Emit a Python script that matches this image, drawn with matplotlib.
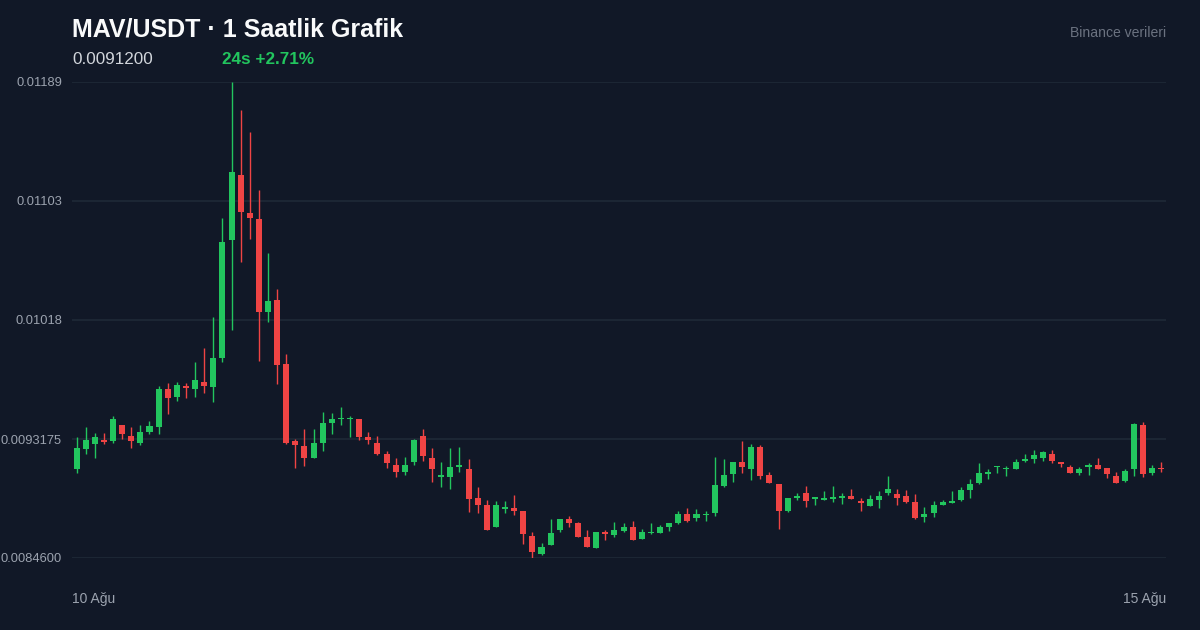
import matplotlib
matplotlib.use("Agg")
import matplotlib.pyplot as plt
import numpy as np

# ---- data (hourly candles, MAV/USDT) ----
opens = [0.0091013, 0.0092432, 0.0092836, 0.0093124, 0.0093009, 0.0094205, 0.0093391, 0.0092908, 0.0093701, 0.0094018,
         0.0096778, 0.0096201, 0.0096994, 0.0096799, 0.0097282, 0.0096943, 0.0099033, 0.0107536, 0.0112198, 0.0109482,
         0.0109006, 0.0102326, 0.0103191, 0.0098579, 0.0092995, 0.0092692, 0.0091827, 0.0092908, 0.0094306, 0.0094594,
         0.0094594, 0.0094616, 0.0093319, 0.0092908, 0.0092115, 0.0091301, 0.0090797, 0.0091517, 0.0093391, 0.0091784,
         0.0090458, 0.0090415, 0.0091179, 0.0090991, 0.0088902, 0.0088397, 0.0086812, 0.0088152, 0.0088203, 0.0087986,
         0.0086185, 0.0084888, 0.0085515, 0.0086596, 0.0087388, 0.0087100, 0.0086091, 0.0085299, 0.0086495, 0.0086279,
         0.0086567, 0.0086812, 0.0085990, 0.0086380, 0.0086380, 0.0086812, 0.0087100, 0.0087770, 0.0087482, 0.0087677,
         0.0087821, 0.0089809, 0.0090631, 0.0091496, 0.0091013, 0.0092598, 0.0090581, 0.0089910, 0.0088008, 0.0088902,
         0.0089283, 0.0088851, 0.0088779, 0.0088851, 0.0088923, 0.0089089, 0.0088707, 0.0088325, 0.0088801, 0.0089305,
         0.0089211, 0.0089089, 0.0088613, 0.0087532, 0.0087821, 0.0088440, 0.0088541, 0.0088779, 0.0089500, 0.0089982,
         0.0090674, 0.0091135, 0.0091013, 0.0091013, 0.0091568, 0.0091712, 0.0091806, 0.0092094, 0.0091496, 0.0091179,
         0.0090725, 0.0091179, 0.0091280, 0.0091085, 0.0090508, 0.0090170, 0.0091013, 0.0094183, 0.0090703, 0.0091107]
highs = [0.0093297, 0.0094018, 0.0093585, 0.0093585, 0.0094810, 0.0094205, 0.0094018, 0.0094183, 0.0094493, 0.0096972,
         0.0097210, 0.0097282, 0.0097210, 0.0098723, 0.0099710, 0.0101987, 0.0109078, 0.0118900, 0.0116882, 0.0115297,
         0.0111096, 0.0106599, 0.0103983, 0.0099278, 0.0093175, 0.0093895, 0.0093895, 0.0095099, 0.0095027, 0.0095502,
         0.0094832, 0.0094616, 0.0093679, 0.0093391, 0.0092310, 0.0091784, 0.0091899, 0.0093196, 0.0093895, 0.0092505,
         0.0091517, 0.0092505, 0.0092598, 0.0091712, 0.0089694, 0.0088779, 0.0088685, 0.0088685, 0.0089118, 0.0087986,
         0.0086495, 0.0085702, 0.0087410, 0.0087388, 0.0087626, 0.0087172, 0.0086617, 0.0086495, 0.0086617, 0.0087194,
         0.0087100, 0.0087287, 0.0086668, 0.0087100, 0.0086978, 0.0087100, 0.0087986, 0.0088203, 0.0088109, 0.0087986,
         0.0091899, 0.0091712, 0.0091496, 0.0093009, 0.0092814, 0.0092721, 0.0090775, 0.0089910, 0.0088902, 0.0089305,
         0.0089809, 0.0088974, 0.0089428, 0.0089788, 0.0089305, 0.0089593, 0.0088902, 0.0089118, 0.0089428, 0.0090508,
         0.0089593, 0.0089500, 0.0089211, 0.0088296, 0.0088707, 0.0088779, 0.0089428, 0.0089716, 0.0090314, 0.0091424,
         0.0091013, 0.0091229, 0.0091229, 0.0091712, 0.0092094, 0.0092382, 0.0092288, 0.0092382, 0.0091496, 0.0091280,
         0.0091179, 0.0091424, 0.0091806, 0.0091085, 0.0090797, 0.0090991, 0.0094306, 0.0094378, 0.0091280, 0.0091496]
lows = [0.0090703, 0.0092094, 0.0091806, 0.0092814, 0.0092908, 0.0093196, 0.0092526, 0.0092721, 0.0093513, 0.0093513,
        0.0094998, 0.0095913, 0.0096107, 0.0096201, 0.0096511, 0.0095819, 0.0098745, 0.0101007, 0.0105907, 0.0107608,
        0.0098817, 0.0101606, 0.0097116, 0.0092814, 0.0091107, 0.0091229, 0.0091827, 0.0092310, 0.0093513, 0.0094205,
        0.0093319, 0.0093124, 0.0092814, 0.0092022, 0.0091107, 0.0090415, 0.0090602, 0.0091301, 0.0091611, 0.0090098,
        0.0089716, 0.0089593, 0.0090818, 0.0087914, 0.0087821, 0.0086617, 0.0086812, 0.0087821, 0.0087698, 0.0085630,
        0.0084621, 0.0084816, 0.0085515, 0.0086495, 0.0086833, 0.0086113, 0.0085414, 0.0085299, 0.0085897, 0.0086134,
        0.0086495, 0.0085897, 0.0085990, 0.0086329, 0.0086380, 0.0086524, 0.0087028, 0.0087215, 0.0087287, 0.0087287,
        0.0087626, 0.0089694, 0.0090098, 0.0090703, 0.0090220, 0.0090314, 0.0090026, 0.0086689, 0.0087914, 0.0088779,
        0.0088296, 0.0088397, 0.0088779, 0.0088635, 0.0088512, 0.0088829, 0.0088008, 0.0088325, 0.0088224, 0.0089139,
        0.0088397, 0.0088563, 0.0087410, 0.0087215, 0.0087532, 0.0088397, 0.0088541, 0.0088707, 0.0088902, 0.0089910,
        0.0090314, 0.0090703, 0.0090508, 0.0091013, 0.0091517, 0.0091424, 0.0091611, 0.0091424, 0.0091135, 0.0090703,
        0.0090602, 0.0090602, 0.0091013, 0.0090386, 0.0090026, 0.0090098, 0.0090530, 0.0090415, 0.0090602, 0.0090818]
closes = [0.0092505, 0.0093103, 0.0093297, 0.0092980, 0.0094616, 0.0093535, 0.0093031, 0.0093679, 0.0094090, 0.0096778,
          0.0096129, 0.0097087, 0.0096871, 0.0097405, 0.0097015, 0.0098990, 0.0107392, 0.0112393, 0.0109532, 0.0109121,
          0.0102326, 0.0103097, 0.0098529, 0.0092908, 0.0092742, 0.0091827, 0.0092908, 0.0094306, 0.0094616, 0.0094688,
          0.0094688, 0.0093319, 0.0093103, 0.0092094, 0.0091424, 0.0090797, 0.0091301, 0.0093103, 0.0091928, 0.0091013,
          0.0090581, 0.0091179, 0.0091301, 0.0088829, 0.0088419, 0.0086617, 0.0088397, 0.0088296, 0.0088008, 0.0086329,
          0.0085032, 0.0085371, 0.0086401, 0.0087388, 0.0087100, 0.0086113, 0.0085414, 0.0086495, 0.0086329, 0.0086617,
          0.0086812, 0.0085897, 0.0086495, 0.0086495, 0.0086812, 0.0087100, 0.0087770, 0.0087287, 0.0087770, 0.0087770,
          0.0089882, 0.0090581, 0.0091496, 0.0091135, 0.0092598, 0.0090508, 0.0090026, 0.0088008, 0.0088902, 0.0089089,
          0.0088707, 0.0088974, 0.0088902, 0.0088974, 0.0089067, 0.0088829, 0.0088563, 0.0088873, 0.0089089, 0.0089593,
          0.0088923, 0.0088635, 0.0087482, 0.0087792, 0.0088397, 0.0088613, 0.0088707, 0.0089500, 0.0089910, 0.0090703,
          0.0090818, 0.0091229, 0.0091107, 0.0091517, 0.0091712, 0.0092000, 0.0092216, 0.0091589, 0.0091352, 0.0090703,
          0.0091013, 0.0091280, 0.0091013, 0.0090631, 0.0090026, 0.0090890, 0.0094277, 0.0090631, 0.0091085, 0.0090991]

y_ticks = [0.01189, 0.0110325, 0.010175, 0.0093175, 0.00846]
y_tick_labels = ["0.01189", "0.01103", "0.01018", "0.0093175", "0.0084600"]
x_labels = ["10 Ağu", "15 Ağu"]

title = "MAV/USDT · 1 Saatlik Grafik"
last_price = "0.0091200"
change_text = "24s +2.71%"
source_text = "Binance verileri"

# ---- style ----
BG = "#111827"
GRID = "#1f2937"
UP = "#22c55e"
DOWN = "#ef4444"
TICK = "#9ca3af"
FONT = ["Liberation Sans", "DejaVu Sans"]
plt.rcParams["font.family"] = FONT

W, H = 1200, 630
fig = plt.figure(figsize=(W / 100, H / 100), dpi=100, facecolor=BG)
ax = fig.add_axes([72 / W, (H - 558) / H, 1094 / W, 476 / H])
ax.set_facecolor(BG)

o = np.array(opens); hi = np.array(highs); lo = np.array(lows); c = np.array(closes)
x = np.arange(len(o))
up = c >= o
colors = np.where(up, UP, DOWN)

ax.vlines(x, lo, hi, colors=colors, linewidth=1.0, zorder=2)
min_h = 1.1e-5
bottom = np.minimum(o, c)
height = np.abs(c - o)
small = height < min_h
bottom = np.where(small, (o + c) / 2 - min_h / 2, bottom)
height = np.where(small, min_h, height)
ax.bar(x, height, bottom=bottom, width=0.66, color=colors, linewidth=0, zorder=3)

ax.set_xlim(-0.5, len(o) - 0.5)
ax.set_ylim(y_ticks[-1], y_ticks[0])
ax.set_yticks(y_ticks)
ax.set_yticklabels(y_tick_labels)
ax.set_xticks([])
ax.tick_params(axis="y", length=0, pad=7.2, labelsize=9.3, labelcolor=TICK)
ax.grid(axis="y", color=GRID, linewidth=1.2, zorder=0)
for s in ax.spines.values():
    s.set_visible(False)

# x labels
ax.text(0, -41 / 476, x_labels[0], transform=ax.transAxes, ha="left", va="center",
        color=TICK, fontsize=10)
ax.text(1, -41 / 476, x_labels[1], transform=ax.transAxes, ha="right", va="center",
        color=TICK, fontsize=10)

# header
fig.text(72 / W, 1 - 29.5 / H, title, ha="left", va="center", color="#f9fafb",
         fontsize=18, fontweight="bold")
fig.text(72 / W, 1 - 60 / H, last_price, ha="left", va="center", color="#d1d5db",
         fontsize=12.3)
fig.text(222 / W, 1 - 60 / H, change_text, ha="left", va="center", color=UP,
         fontsize=12.3, fontweight="bold")
fig.text(1166 / W, 1 - 33 / H, source_text, ha="right", va="center", color="#6b7280",
         fontsize=10.1)

fig.savefig("out.png", dpi=100, facecolor=BG)
